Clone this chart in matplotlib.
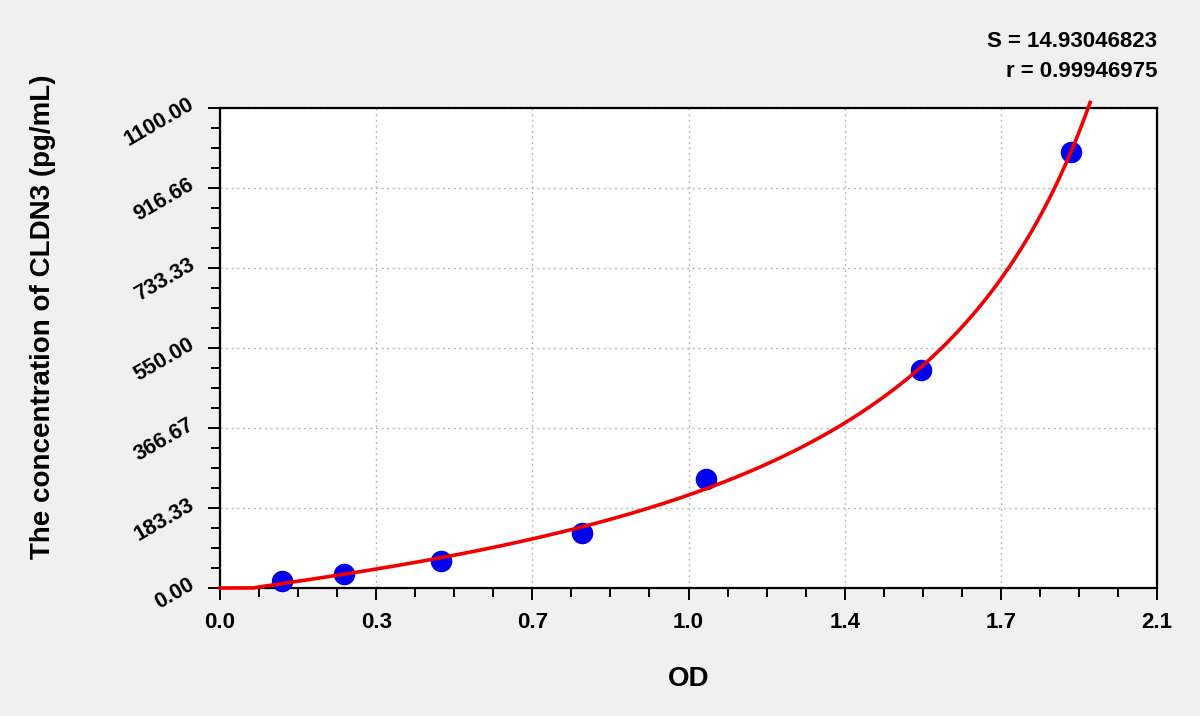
import numpy as np
import matplotlib
matplotlib.use("Agg")
import matplotlib.pyplot as plt
from matplotlib.ticker import AutoMinorLocator

# ---- data ----
od_values = [0.140, 0.277, 0.495, 0.812, 1.089, 1.572, 1.907]
conc_values = [15.6, 31.25, 62.5, 125.0, 250.0, 500.0, 1000.0]

x_ticks = [0.0, 0.35, 0.70, 1.05, 1.40, 1.75, 2.10]
x_tick_labels = ["0.0", "0.3", "0.7", "1.0", "1.4", "1.7", "2.1"]
y_ticks = [0.0, 183.333, 366.667, 550.0, 733.333, 916.667, 1100.0]
y_tick_labels = ["0.00", "183.33", "366.67", "550.00", "733.33", "916.66", "1100.00"]

stats_lines = ["S = 14.93046823", "r = 0.99946975"]
x_label = "OD"
y_label = "The concentration of CLDN3 (pg/mL)"

plt.rcParams['font.family'] = ['Liberation Sans', 'DejaVu Sans']
plt.rcParams['font.weight'] = 'bold'


# ---- four-parameter logistic: OD = D + (A - D) / (1 + (c/C)^B) ----
def od_model(p, c):
    A, B, logC, D = p
    return D + (A - D) / (1.0 + (c / np.exp(logC)) ** B)


def conc_model(p, od):
    A, B, logC, D = p
    od = np.asarray(od, float)
    with np.errstate(all='ignore'):
        ratio = (A - D) / (od - D) - 1.0
        return np.exp(logC) * ratio ** (1.0 / B)


def lm(func, p, x, y, iters=3000):
    x = np.asarray(x, float)
    y = np.asarray(y, float)
    p = np.array(p, float)
    lam = 1e-2

    def sse(q):
        v = y - func(q, x)
        return np.sum(v ** 2) if np.all(np.isfinite(v)) else np.inf

    cur = sse(p)
    for _ in range(iters):
        r = y - func(p, x)
        J = np.empty((len(x), len(p)))
        for k in range(len(p)):
            dp = np.zeros(len(p))
            h = 1e-6 * max(1.0, abs(p[k]))
            dp[k] = h
            J[:, k] = (func(p + dp, x) - func(p - dp, x)) / (2 * h)
        if not np.all(np.isfinite(J)):
            break
        JTJ = J.T @ J
        g = J.T @ r
        try:
            step = np.linalg.solve(JTJ + lam * np.diag(np.diag(JTJ) + 1e-12), g)
        except np.linalg.LinAlgError:
            lam *= 10
            continue
        pn = p + step
        new = sse(pn)
        if new < cur:
            p, cur = pn, new
            lam *= 0.3
        else:
            lam *= 10
        if lam > 1e14:
            break
    return p


p0 = lm(od_model, [0.05, 1.0, np.log(1000.0), 3.5], conc_values, od_values)
p = lm(conc_model, p0, od_values, conc_values)
A, B, logC, D = p

xs = np.linspace(0, 2.1, 3000)
ys = np.zeros_like(xs)
ok = (xs > A) & (xs < D)
ys[ok] = conc_model(p, xs[ok])
ys[xs >= D] = np.inf
ys = np.nan_to_num(ys, nan=0.0)
over = ys > 1114
stop = np.argmax(over) if over.any() else len(xs)
xs, ys = xs[:stop], ys[:stop]

bg = '#f0f0f0'
fig = plt.figure(figsize=(12, 7.16), dpi=100, facecolor=bg)
ax = fig.add_axes([220/1200, 1 - 588/716, 937/1200, 480/716])
ax.set_facecolor('white')

ax.plot(od_values, conc_values, 'o', color='#0000f0', markersize=14.5,
        zorder=3, clip_on=False)
ax.plot(xs, ys, '-', color='#f00000', linewidth=2.6, zorder=4, clip_on=False)

ax.set_xlim(0, 2.1)
ax.set_ylim(0, 1100)
ax.set_xticks(x_ticks)
ax.set_xticklabels(x_tick_labels, fontsize=16, fontweight='bold')
ax.set_yticks(y_ticks)
ax.set_yticklabels(y_tick_labels, fontsize=15.5, fontweight='bold',
                   rotation=30, ha='right', va='baseline', rotation_mode='anchor')
ax.xaxis.set_minor_locator(AutoMinorLocator(4))
ax.yaxis.set_minor_locator(AutoMinorLocator(4))

ax.tick_params(axis='both', which='major', direction='out', length=8.6,
               width=1.4, color='black')
ax.tick_params(axis='both', which='minor', direction='out', length=6.2,
               width=1.4, color='black')
ax.tick_params(axis='x', which='major', pad=9)
ax.tick_params(axis='y', which='major', pad=9)

for s in ax.spines.values():
    s.set_linewidth(1.6)
    s.set_color('black')

ax.grid(True, which='major', linestyle=(0, (1.5, 2.5)), color='#b8b8b8', linewidth=1)
ax.set_axisbelow(True)

ax.set_xlabel(x_label, fontsize=20, fontweight='bold', va='center')
ax.xaxis.set_label_coords(0.5, -91/480)
ax.set_ylabel(y_label, fontsize=20, fontweight='bold', va='center')
ax.yaxis.set_label_coords(-177/937, (588 - 316.5)/480)

fig.text(1157/1200, 1 - 47/716, stats_lines[0], ha='right', va='baseline',
         fontsize=16, fontweight='bold')
fig.text(1157/1200, 1 - 77/716, stats_lines[1], ha='right', va='baseline',
         fontsize=16, fontweight='bold')

fig.savefig('out.png', dpi=100, facecolor=bg)
